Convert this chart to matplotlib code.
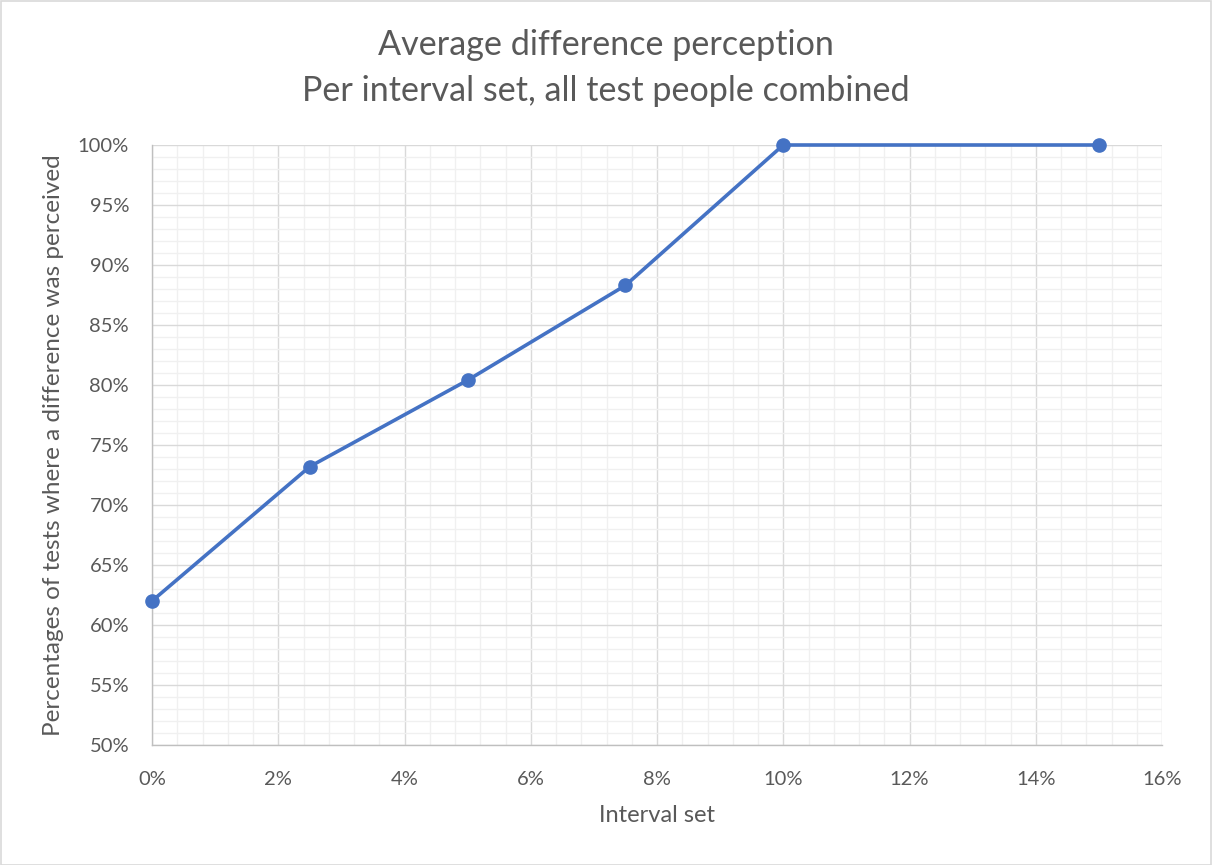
import matplotlib
matplotlib.use("Agg")
import matplotlib.pyplot as plt
from matplotlib.ticker import MultipleLocator, FuncFormatter
from matplotlib.patches import Rectangle

# Interval set (in percent) and share of tests where a difference was perceived (in percent)
interval_set = [0.0, 2.5, 5.0, 7.5, 10.0, 15.0]
perceived = [62.0, 73.2, 80.4, 88.3, 100.0, 100.0]

title_lines = ["Average difference perception", "Per interval set, all test people combined"]
x_label = "Interval set"
y_label = "Percentages of tests where a difference was perceived"

TEXT = "#595959"
MAJOR = "#d9d9d9"
MINOR = "#f0f0f0"
LINE = "#4472C4"

plt.rcParams['font.family'] = ['Lato', 'DejaVu Sans']

W, H = 1212, 865
fig = plt.figure(figsize=(W / 100, H / 100), dpi=100)
ax = fig.add_axes([152 / W, 1 - 745 / H, (1162 - 152) / W, (745 - 145) / H])

ax.plot(interval_set, perceived, color=LINE, linewidth=2.6, marker='o',
        markersize=9.5, markerfacecolor=LINE, markeredgecolor=LINE, zorder=5,
        clip_on=False)

ax.set_xlim(0, 16)
ax.set_ylim(50, 100)
ax.xaxis.set_major_locator(MultipleLocator(2))
ax.xaxis.set_minor_locator(MultipleLocator(0.4))
ax.yaxis.set_major_locator(MultipleLocator(5))
ax.yaxis.set_minor_locator(MultipleLocator(1))
ax.xaxis.set_major_formatter(FuncFormatter(lambda v, p: f"{v:.0f}%"))
ax.yaxis.set_major_formatter(FuncFormatter(lambda v, p: f"{v:.0f}%"))

ax.grid(which='minor', color=MINOR, linewidth=1.0, zorder=0)
ax.grid(which='major', color=MAJOR, linewidth=1.0, zorder=1)
ax.set_axisbelow(True)

for side in ('top', 'right'):
    ax.spines[side].set_visible(False)
for side in ('left', 'bottom'):
    ax.spines[side].set_color("#bfbfbf")
    ax.spines[side].set_linewidth(1.0)

ax.tick_params(which='both', length=0, colors=TEXT, labelsize=14.5)
ax.tick_params(axis='x', pad=19)
ax.tick_params(axis='y', pad=16.5)

ax.set_xlabel(x_label, color=TEXT, fontsize=17)
ax.xaxis.set_label_coords(0.5, (745 - 816) / 600, transform=ax.transAxes)
ax.xaxis.label.set_va('center')
ax.set_ylabel(y_label, color=TEXT, fontsize=17.5)
ax.yaxis.set_label_coords((54 - 152) / 1010, 0.5, transform=ax.transAxes)
ax.yaxis.label.set_va('center')

cx = 606 / W
fig.text(cx, 1 - 45 / H, title_lines[0], ha='center', va='center',
         color=TEXT, fontsize=24.6)
fig.text(cx, 1 - 91 / H, title_lines[1], ha='center', va='center',
         color=TEXT, fontsize=24.6)

# chart border
fig.patches.append(Rectangle((0.5 / W, 0.5 / H), 1 - 1.5 / W, 1 - 1.5 / H,
                             transform=fig.transFigure, fill=False,
                             edgecolor="#d9d9d9", linewidth=1.2))

fig.savefig("out.png", dpi=100)
